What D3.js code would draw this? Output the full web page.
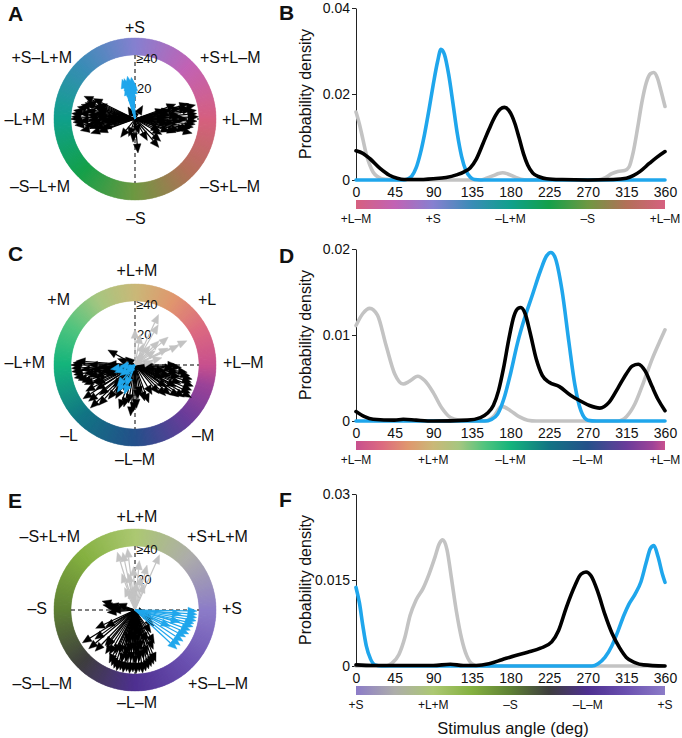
<!DOCTYPE html>
<html><head><meta charset="utf-8">
<script src="https://cdn.jsdelivr.net/npm/d3@7"></script>
<style>
body{margin:0;background:#fff;}
text{font-family:"Liberation Sans",Arial,Helvetica,sans-serif;fill:#111;}
</style>
</head><body><script>
// ---------------- DATA ----------------
const angleTicks = [0,45,90,135,180,225,270,315,360];

// Ring / bar colour stops (angle in deg, colour)
const stopsA = [[0,"#d6607f"],[45,"#c262b4"],[90,"#8680d0"],[135,"#3a8cb6"],[180,"#10a08c"],[225,"#14a04a"],[270,"#6e9842"],[315,"#b27058"],[360,"#d6607f"]];
const stopsC = [[0,"#c8508e"],[30,"#dc6a80"],[60,"#e0966e"],[90,"#cab878"],[120,"#a6c680"],[150,"#50c47e"],[180,"#14b47c"],[225,"#127484"],[270,"#24508a"],[315,"#6a3c9a"],[345,"#9c4398"],[360,"#c8508e"]];
const stopsE = [[0,"#8c7cc8"],[45,"#adadaa"],[90,"#acc872"],[135,"#84b040"],[180,"#5e8034"],[225,"#3e3e3e"],[270,"#4e3090"],[315,"#6a50b0"],[360,"#8c7cc8"]];

// Ring labels at 0,45,...,315 deg
const ringLabelsA = ["+L–M","+S+L–M","+S","+S–L+M","–L+M","–S–L+M","–S","–S+L–M"];
const ringLabelsC = ["+L–M","+L","+L+M","+M","–L+M","–L","–L–M","–M"];
const ringLabelsE = ["+S","+S+L+M","+L+M","–S+L+M","–S","–S–L–M","–L–M","+S–L–M"];

// Bar labels (at 0,90,180,270,360)
const barLabelsB = ["+L–M","+S","–L+M","–S","+L–M"];
const barLabelsD = ["+L–M","+L+M","–L+M","–L–M","+L–M"];
const barLabelsF = ["+S","+L+M","–S","–L–M","+S"];

// Arrows: [angle deg, magnitude]
const arrowsA_black = [
 [172,40],[175,41],[178,41],[180,41],[183,40],[186,39],[168,38],[165,36],[162,34],[160,33],[170,32],[176,30],[181,30],[185,28],[188,33],[190,30],[193,27],[178,24],[172,26],[166,25],[184,22],[187,18],[180,15],[175,18],[163,28],[158,26],[195,22],[192,36],[174,36],[182,36],[156,36],[154,30],[198,30],[200,25],
 [2,41],[5,40],[8,40],[-2,40],[-5,39],[-8,38],[10,37],[12,35],[14,30],[-10,36],[-12,34],[-15,30],[-18,28],[0,34],[3,30],[6,28],[-3,30],[-6,26],[15,24],[-20,24],[8,22],[-8,22],[0,20],[18,20],[-25,18],[16,36],[13,40],[-14,38],[20,28],
 [-85,22],[-95,15],[-128,15],[-41,22],[-60,16],[-110,12],[-75,10],[-50,24],[-30,20],[100,8],[60,10],[120,9]
];
const arrowsA_blue = [[95,27],[100,28],[105,27],[108,27],[98,25],[103,24],[106,22],[93,22],[97,20],[101,21],[94,26],[104,25],[99,18],[92,24]];

const arrowsC_black = [
 [180,41],[183,41],[186,41],[189,40],[192,40],[195,38],[178,40],[176,38],[198,36],[201,35],[185,35],[190,33],[194,31],[180,30],[187,28],[197,27],[203,30],[206,28],[184,24],[192,22],[200,20],[178,18],[188,16],[196,14],
 [208,36],[213,40],[218,38],[224,40],[228,35],[212,30],[220,30],[232,28],[240,25],[225,20],[235,22],[245,18],
 [265,33],[268,30],[272,28],[260,25],[275,22],[255,28],[280,20],[250,30],[285,24],[290,26],
 [-30,42],[-27,40],[-24,40],[-20,40],[-17,38],[-14,38],[-11,36],[-8,34],[-33,38],[-36,35],[-40,30],[-45,28],[-22,32],[-15,30],[-10,28],[-28,30],[-5,25],[-50,24],[-60,22],[-35,25],[-18,24],[-25,20],[-12,20],
 [0,27],[-3,30],[3,12],[151,20],[160,12],[140,8]
];
const arrowsC_gray = [[65,36],[60,30],[90,23],[80,20],[25,37],[24,31],[27,24],[35,16],[15,18],[52,16],[68,15],[45,22],[40,28],[10,12],[55,10]];
const arrowsC_blue = [[190,16],[200,14],[237,21],[230,18],[215,12],[245,15],[185,10],[250,20],[220,8]];

const arrowsE_black = [
 [250,40],[253,41],[256,40],[259,41],[262,40],[265,41],[268,40],[271,41],[274,40],[277,41],[280,40],[283,39],[286,38],[289,37],[292,36],[247,39],[244,38],[255,35],[260,34],[265,33],[270,35],[275,33],[280,32],[285,30],[258,30],[262,28],[268,27],[272,29],[278,26],[250,30],[245,31],[240,33],[236,34],[232,30],[295,28],[300,25],[290,22],[262,20],[270,22],[280,18],[255,22],
 [212,40],[220,39],[226,37],[216,32],[230,30],[205,28],[210,22],
 [171,21],[165,22],[175,18],[168,17],[180,15],[185,18],[160,12],
 [-27,13],[-40,16],[-55,18],[-20,8]
];
const arrowsE_gray = [[97,40],[107,39],[102,38],[66,39],[75,30],[85,32],[92,28],[100,24],[110,25],[80,22],[88,18],[95,15],[105,14],[70,18],[115,16]];
const arrowsE_blue = [[-1,40],[-4,40],[-7,40],[-10,40],[-13,39],[-16,39],[-20,38],[-24,38],[-28,37],[-33,37],[-38,37],[-43,37],[-5,30],[-15,30],[-25,25]];

// Density curves: [angle deg, density]
const densB_gray = [[0,0.0158],[4,0.013],[8,0.0095],[12,0.006],[16,0.0035],[20,0.0018],[25,0.0008],[30,0.0003],[40,0.0001],[60,0],[145,0],[152,0.0004],[160,0.001],[166,0.0015],[171,0.0017],[177,0.0014],[185,0.0007],[192,0.0002],[200,0],[280,0],[290,0.0005],[298,0.0015],[305,0.002],[313,0.0022],[318,0.003],[323,0.0065],[328,0.012],[333,0.018],[338,0.0225],[343,0.0247],[347,0.025],[351,0.0238],[355,0.021],[360,0.0171]];
const densB_black = [[0,0.0068],[8,0.0062],[16,0.005],[28,0.0027],[39,0.0011],[48,0.0004],[56,0.0001],[70,0.0001],[90,0.0003],[105,0.0006],[117,0.0012],[126,0.0019],[133,0.0028],[140,0.0048],[148,0.0085],[155,0.0118],[162,0.0148],[168,0.0165],[173,0.0169],[178,0.0162],[185,0.0132],[190,0.0098],[195,0.0062],[200,0.0035],[206,0.0016],[214,0.0007],[222,0.0003],[240,0.0001],[270,0],[300,0.0001],[315,0.0004],[323,0.001],[331,0.002],[342,0.0039],[350,0.0052],[360,0.0066]];
const densB_blue = [[0,0],[55,0],[60,0.0002],[65,0.0009],[70,0.0028],[75,0.0062],[80,0.0108],[85,0.0163],[90,0.0222],[95,0.0275],[99,0.0304],[103,0.0292],[108,0.0245],[113,0.0178],[118,0.0108],[123,0.0055],[128,0.0022],[133,0.0007],[138,0.0001],[145,0],[360,0]];

const densD_gray = [[0,0.0111],[8,0.0125],[16,0.0131],[25,0.0123],[35,0.0088],[45,0.0055],[55,0.0043],[62,0.0046],[72,0.0052],[80,0.0047],[90,0.0033],[100,0.0015],[110,0.0004],[120,0.0001],[150,0],[160,0.0005],[170,0.0017],[180,0.0012],[190,0.0005],[200,0.0001],[210,0],[305,0],[315,0.0005],[325,0.002],[335,0.0045],[345,0.0072],[355,0.0095],[360,0.0106]];
const densD_black = [[0,0.0011],[10,0.0005],[20,0.0002],[45,0.0001],[55,0.0002],[70,0.0001],[90,0],[130,0.0001],[145,0.0004],[153,0.0009],[160,0.0018],[166,0.0035],[172,0.0062],[178,0.0095],[184,0.0122],[189,0.0131],[192,0.0132],[197,0.0125],[203,0.0102],[210,0.0072],[217,0.0053],[225,0.0045],[237,0.004],[250,0.003],[262,0.0023],[272,0.0018],[284,0.0015],[295,0.0022],[305,0.0038],[315,0.0055],[322,0.0064],[329,0.0066],[337,0.0058],[345,0.004],[352,0.0025],[360,0.0012]];
const densD_blue = [[0,0],[150,0],[158,0.0002],[165,0.0008],[172,0.0025],[180,0.0055],[188,0.009],[195,0.0115],[205,0.0145],[215,0.0175],[222,0.0192],[227,0.0196],[232,0.019],[240,0.0152],[248,0.0092],[255,0.0042],[262,0.0012],[270,0.0001],[280,0],[360,0]];

const densF_gray = [[0,0],[35,0],[42,0.0005],[50,0.002],[57,0.005],[63,0.0088],[70,0.0115],[78,0.0135],[85,0.016],[92,0.019],[97,0.0213],[101,0.022],[106,0.0203],[111,0.0155],[117,0.0095],[123,0.0048],[129,0.0018],[135,0.0004],[142,0],[360,0]];
const densF_black = [[0,0.0002],[20,0.0001],[60,0.0001],[90,0.0001],[110,0.0003],[125,0.0001],[140,0.0001],[155,0.0004],[170,0.0011],[185,0.0018],[200,0.0024],[215,0.0031],[228,0.0042],[236,0.0062],[245,0.0102],[255,0.014],[262,0.016],[268,0.0164],[274,0.0157],[282,0.0128],[290,0.009],[298,0.0058],[307,0.0032],[315,0.0015],[325,0.0006],[335,0.0002],[360,0]];
const densF_blue = [[0,0.0137],[4,0.011],[8,0.007],[12,0.0035],[17,0.0012],[22,0.0002],[30,0],[275,0],[282,0.0004],[290,0.0015],[298,0.0035],[305,0.006],[312,0.0088],[318,0.0108],[325,0.0125],[332,0.0147],[338,0.018],[343,0.0205],[347,0.021],[352,0.019],[357,0.016],[360,0.0146]];

const yTicksB = [0,0.02,0.04], yTickLabelsB = ["0","0.02","0.04"];
const yTicksD = [0,0.01,0.02], yTickLabelsD = ["0","0.01","0.02"];
const yTicksF = [0,0.015,0.03], yTickLabelsF = ["0","0.015","0.03"];

// ---------------- LAYOUT / STYLE ----------------
const COL_BLUE = "#1fa6ec", COL_GRAY = "#c3c3c3", COL_BLACK = "#000";
const R_IN = 64, R_OUT = 81, PX_PER_UNIT = 1.55;

// label layout offsets relative to circle centre: [dx, dy, anchor]
const labLayoutA = [[87,0,"start"],[65,-62,"start"],[0,-92,"middle"],[-63,-62,"end"],[-90,0,"end"],[-65,67,"end"],[1,99,"middle"],[65,67,"start"]];
const labLayoutC = [[88,-3,"start"],[63,-66,"start"],[2,-95,"middle"],[-65,-66,"end"],[-90,-3,"end"],[-57,70,"end"],[0,94,"middle"],[57,70,"start"]];
const labLayoutE = [[87,-2,"start"],[52,-74,"start"],[2,-94,"middle"],[-55,-74,"end"],[-88,-2,"end"],[-63,73,"end"],[2,92,"middle"],[53,73,"start"]];

const svg = d3.select("body").append("svg").attr("width",682).attr("height",738);
const defs = svg.append("defs");

function colorScale(stops){
  return d3.scaleLinear().domain(stops.map(s=>s[0])).range(stops.map(s=>s[1])).interpolate(d3.interpolateRgb);
}

function drawArrows(g, cx, cy, arr, color){
  const hl = 9, hw = 3.8;
  arr.forEach(([ang, mag]) => {
    const r = mag * PX_PER_UNIT;
    const a = ang * Math.PI / 180;
    const ux = Math.cos(a), uy = -Math.sin(a);
    const tx = cx + r*ux, ty = cy + r*uy;
    const bx = tx - hl*ux, by = ty - hl*uy;
    g.append("line").attr("x1",cx).attr("y1",cy).attr("x2",bx).attr("y2",by)
      .attr("stroke",color).attr("stroke-width",1.2);
    const px = -uy, py = ux;
    g.append("path").attr("d",`M${tx},${ty}L${bx+hw*px},${by+hw*py}L${bx-hw*px},${by-hw*py}Z`)
      .attr("fill",color).attr("stroke",color).attr("stroke-width",0.4);
  });
}

function ringPanel(cx, cy, stops, labels, layout, black, gray, blue, letter, lx, ly){
  const g = svg.append("g");
  const col = colorScale(stops);
  const arc = d3.arc().innerRadius(R_IN).outerRadius(R_OUT);
  const segs = d3.range(0,360,1);
  g.append("g").attr("transform",`translate(${cx},${cy})`)
    .selectAll("path").data(segs).join("path")
    .attr("d", a => arc({startAngle:(90-a-0.8)*Math.PI/180, endAngle:(90-a+0.8)*Math.PI/180}))
    .attr("fill", a => col(a)).attr("stroke", a=>col(a)).attr("stroke-width",0.3);
  g.append("line").attr("x1",cx).attr("x2",cx).attr("y1",cy-R_IN).attr("y2",cy+R_IN)
    .attr("stroke","#000").attr("stroke-width",1).attr("stroke-dasharray","4,3");
  g.append("line").attr("x1",cx-R_IN).attr("x2",cx+R_IN).attr("y1",cy).attr("y2",cy)
    .attr("stroke","#000").attr("stroke-width",1).attr("stroke-dasharray","4,3");
  g.append("text").attr("x",cx+1).attr("y",cy-61).attr("dy","0.35em").attr("font-size",13).text("≥40");
  g.append("text").attr("x",cx+2).attr("y",cy-31).attr("dy","0.35em").attr("font-size",13).text("20");
  const ga = g.append("g");
  drawArrows(ga, cx, cy, black, COL_BLACK);
  if (gray) drawArrows(ga, cx, cy, gray, COL_GRAY);
  drawArrows(ga, cx, cy, blue, COL_BLUE);
  labels.forEach((t,i) => {
    const [dx,dy,anc] = layout[i];
    g.append("text").attr("x",cx+dx).attr("y",cy+dy).attr("dy","0.35em")
      .attr("text-anchor",anc).attr("font-size",16).text(t);
  });
  svg.append("text").attr("x",lx).attr("y",ly).attr("font-size",21).attr("font-weight","bold").text(letter);
}

let gradId = 0;
function densPanel(y0, yTop, yMax, yTicks, yTickLabels, gray, black, blue, stops, barLabels, letter, ly){
  const g = svg.append("g");
  const x = d3.scaleLinear().domain([0,360]).range([356,665]);
  const y = d3.scaleLinear().domain([0,yMax]).range([y0,yTop]);
  const ya = g.append("g").attr("transform",`translate(356,0)`)
    .call(d3.axisLeft(y).tickValues(yTicks).tickFormat((d,i)=>yTickLabels[i]).tickSize(4).tickSizeOuter(0).tickPadding(2));
  ya.select(".domain").attr("stroke","#222");
  ya.selectAll("line").attr("stroke","#222");
  ya.selectAll("text").attr("font-size",14).attr("font-family",null).attr("fill","#111");
  const xa = g.append("g").attr("transform",`translate(0,${y0})`)
    .call(d3.axisBottom(x).tickValues(angleTicks).tickSize(0).tickPadding(7));
  xa.select(".domain").remove();
  xa.selectAll("text").attr("font-size",14).attr("font-family",null).attr("fill","#111");
  g.append("text").attr("transform",`translate(305,${(y0+yTop)/2}) rotate(-90)`)
    .attr("text-anchor","middle").attr("dy","0.35em").attr("font-size",16).text("Probability density");
  const line = d3.line().x(d=>x(d[0])).y(d=>y(d[1])).curve(d3.curveMonotoneX);
  [[gray,COL_GRAY],[blue,COL_BLUE],[black,COL_BLACK]].forEach(([d,c]) => {
    g.append("path").datum(d).attr("d",line).attr("fill","none").attr("stroke",c)
      .attr("stroke-width",3.6).attr("stroke-linejoin","round").attr("stroke-linecap","round");
  });
  const col = colorScale(stops);
  const id = "grad"+(gradId++);
  const gr = defs.append("linearGradient").attr("id",id).attr("x1","0%").attr("x2","100%").attr("y1","0%").attr("y2","0%");
  d3.range(0,361,5).forEach(a => gr.append("stop").attr("offset",(a/360*100)+"%").attr("stop-color",col(a)));
  g.append("rect").attr("x",x(0)).attr("y",y0+20).attr("width",x(360)-x(0)).attr("height",9).attr("fill",`url(#${id})`);
  barLabels.forEach((t,i) => {
    g.append("text").attr("x",x(i*90)).attr("y",y0+39).attr("dy","0.35em")
      .attr("text-anchor","middle").attr("font-size",12).text(t);
  });
  svg.append("text").attr("x",279).attr("y",ly).attr("font-size",21).attr("font-weight","bold").text(letter);
}

ringPanel(135,119,stopsA,ringLabelsA,labLayoutA,arrowsA_black,null,arrowsA_blue,"A",8,21);
ringPanel(135,365,stopsC,ringLabelsC,labLayoutC,arrowsC_black,arrowsC_gray,arrowsC_blue,"C",8,261);
ringPanel(135,610,stopsE,ringLabelsE,labLayoutE,arrowsE_black,arrowsE_gray,arrowsE_blue,"E",8,508);

densPanel(180,8,0.04,yTicksB,yTickLabelsB,densB_gray,densB_black,densB_blue,stopsA,barLabelsB,"B",20);
densPanel(421,249,0.02,yTicksD,yTickLabelsD,densD_gray,densD_black,densD_blue,stopsC,barLabelsD,"D",263);
densPanel(666,494,0.03,yTicksF,yTickLabelsF,densF_gray,densF_black,densF_blue,stopsE,barLabelsF,"F",507);

svg.append("text").attr("x",513).attr("y",728).attr("dy","0.35em").attr("text-anchor","middle")
  .attr("font-size",16.5).text("Stimulus angle (deg)");
</script></body></html>
